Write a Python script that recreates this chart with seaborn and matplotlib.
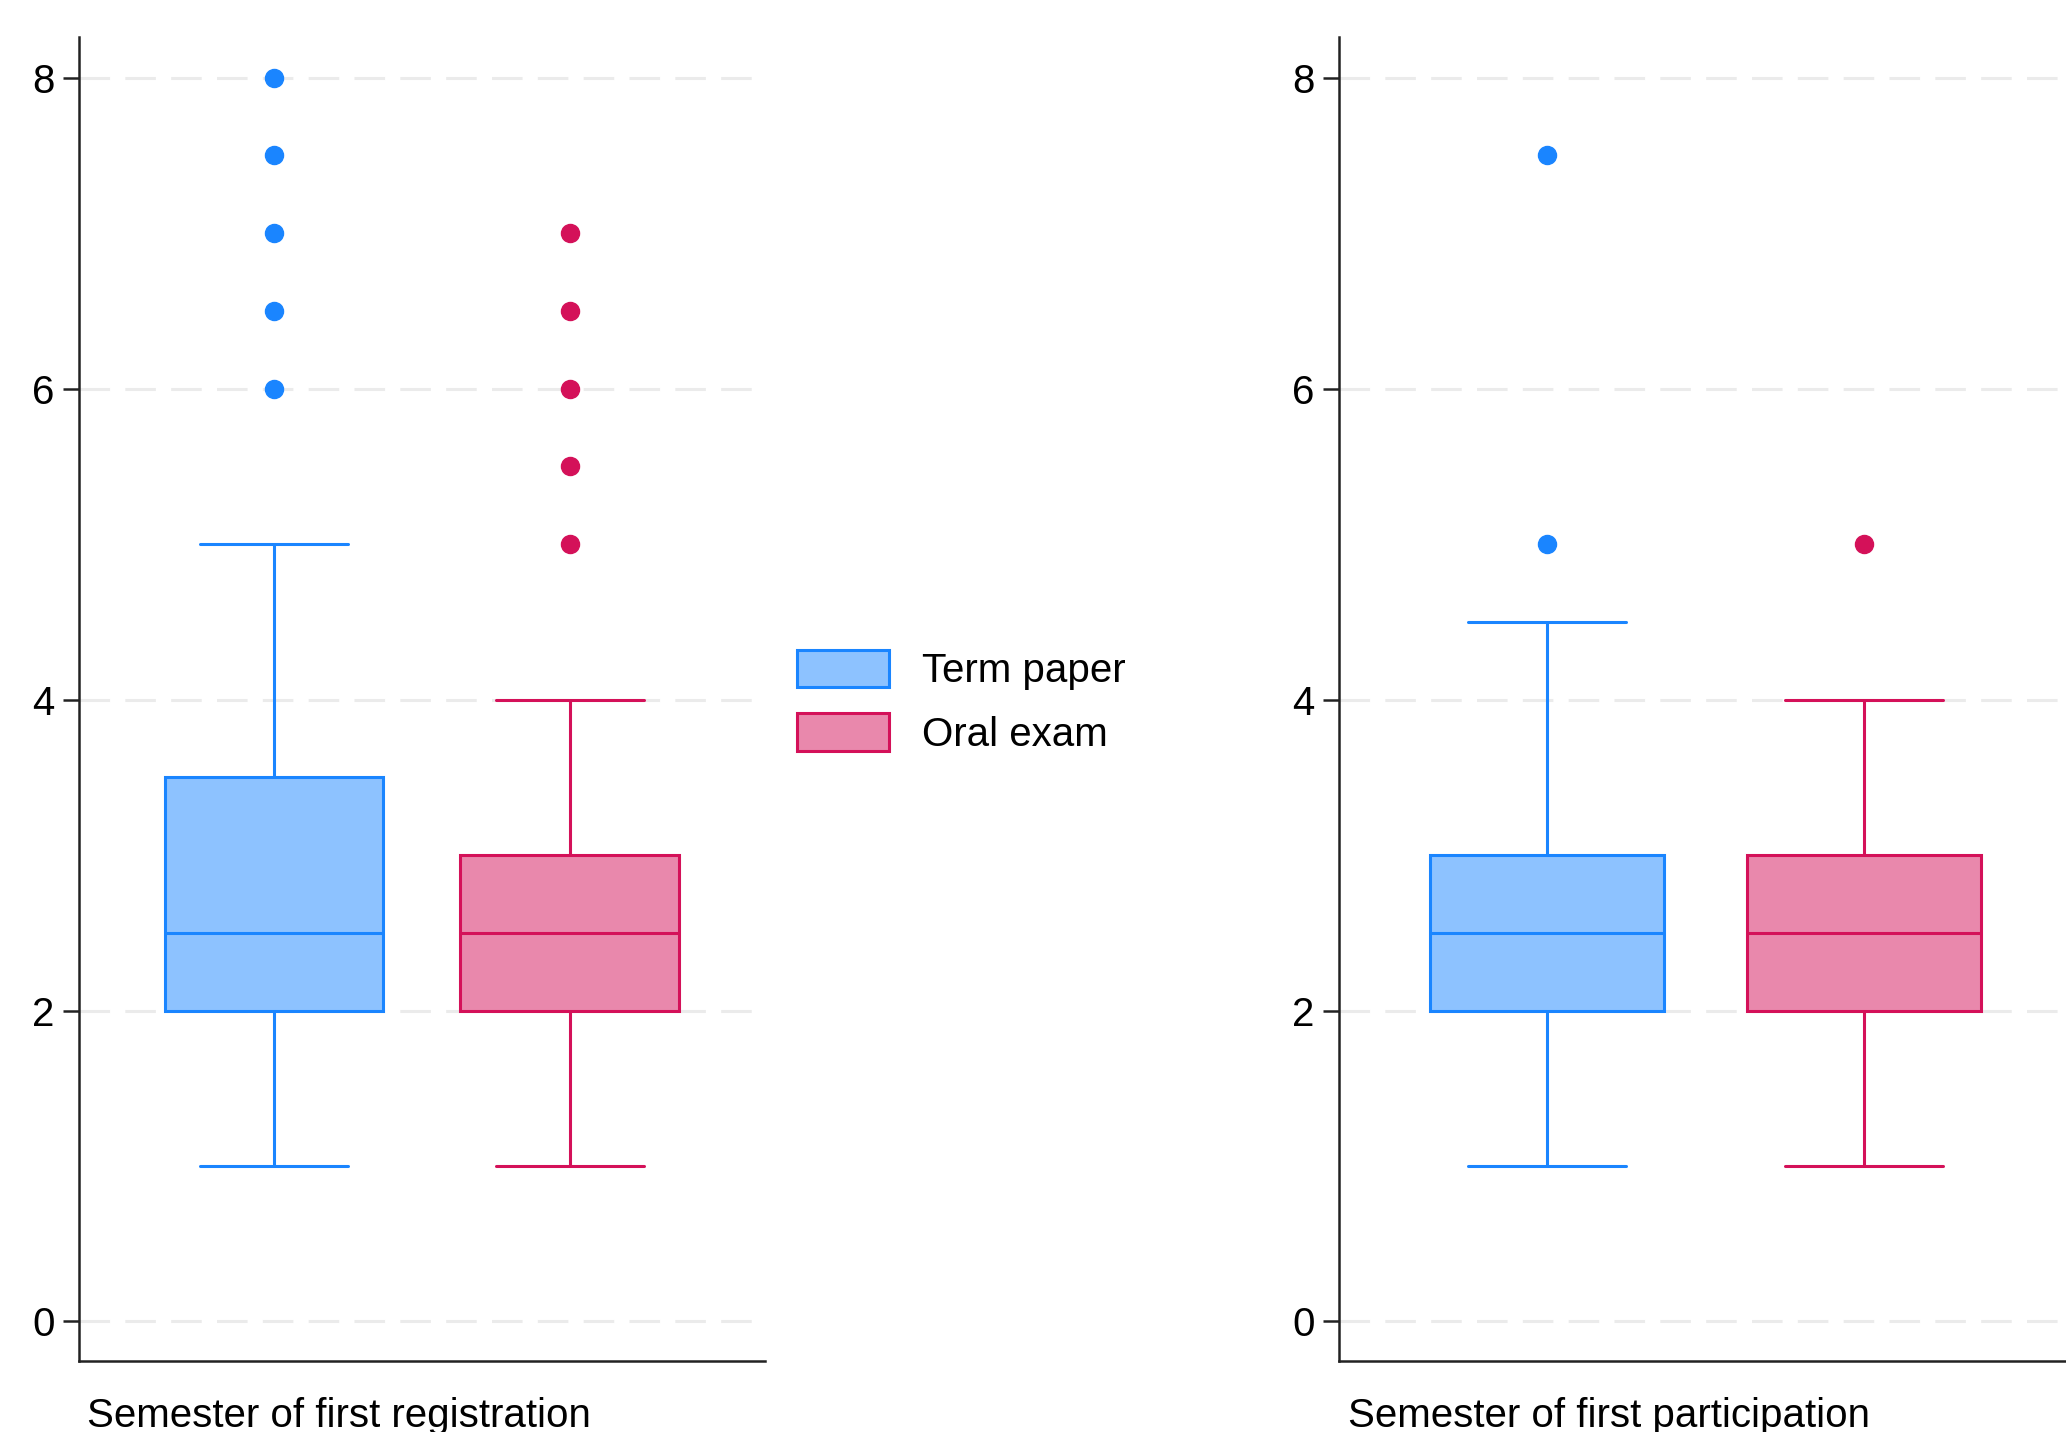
import pandas as pd
import matplotlib
matplotlib.use("Agg")
import matplotlib.pyplot as plt
import seaborn as sns
from matplotlib.patches import Patch

exam_types = ["Term paper", "Oral exam"]
line_colors = ["#1A85FF", "#D41159"]
fill_colors = ["#8DC2FF", "#E988AC"]

# semester of first registration
reg_term = [1, 1, 1.5, 1.5, 2, 2, 2, 2, 2, 2, 2.5, 2.5, 2.5, 2.5, 2.5,
            3, 3, 3, 3.5, 3.5, 3.5, 3.5, 4, 5, 6, 6.5, 7, 7.5, 8]
reg_oral = [1, 1.5, 1.5, 2, 2, 2, 2, 2, 2, 2, 2.5, 2.5, 2.5, 2.5, 2.5, 2.5,
            3, 3, 3, 3, 3, 3, 3.5, 4, 5, 5.5, 6, 6.5, 7]

# semester of first participation
part_term = [1, 1.5, 2, 2, 2, 2, 2, 2.5, 2.5, 2.5, 2.5,
             3, 3, 3, 3, 3, 3.5, 4, 4.5, 5, 7.5]
part_oral = [1, 1.5, 2, 2, 2, 2, 2, 2.5, 2.5, 2.5, 2.5,
             3, 3, 3, 3, 3, 3, 3.5, 4, 4, 5]

panel_labels = ["Semester of first registration", "Semester of first participation"]
y_ticks = [0, 2, 4, 6, 8]

sns.set_style("white")
plt.rcParams["font.family"] = ["Liberation Sans", "DejaVu Sans"]
plt.rcParams["text.color"] = "black"
plt.rcParams["axes.labelcolor"] = "black"

fig = plt.figure(figsize=(20.66, 14.32), dpi=100)
ax1 = fig.add_axes([0.0382, 0.0496, 0.332, 0.9246])
ax2 = fig.add_axes([0.648, 0.0496, 0.355, 0.9246])

palette = dict(zip(exam_types, fill_colors))

for ax, (term, oral), label in zip([ax1, ax2],
                                   [(reg_term, reg_oral), (part_term, part_oral)],
                                   panel_labels):
    df = pd.DataFrame({
        "semester": term + oral,
        "exam": [exam_types[0]] * len(term) + [exam_types[1]] * len(oral),
    })
    sns.boxplot(data=df, y="semester", hue="exam", hue_order=exam_types,
                palette=palette, saturation=1, linewidth=2.2, gap=0.26,
                capwidths=0.2,
                flierprops=dict(marker="o", markersize=13),
                legend=False, ax=ax)

    # colour each box's outline, whiskers, caps, median and outliers
    for i, lc in enumerate(line_colors):
        ax.patches[i].set_edgecolor(lc)
        for line in ax.lines[i * 6:(i + 1) * 6]:
            line.set_color(lc)
            line.set_markerfacecolor(lc)
            line.set_markeredgecolor(lc)

    ax.set_xlim(-0.464, 0.464)
    ax.set_ylim(-0.254, 8.262)
    ax.set_yticks(y_ticks)
    ax.set_xticks([])
    ax.set_ylabel("")
    ax.set_axisbelow(True)
    ax.yaxis.grid(True, color="#EBEBEB", linewidth=2.2, linestyle=(0, (10, 5)))
    sns.despine(ax=ax)
    for side in ["left", "bottom"]:
        ax.spines[side].set_linewidth(1.8)
        ax.spines[side].set_color("#222222")
    ax.tick_params(axis="y", left=True, length=11.5, width=1.8, color="#222222",
                   labelsize=29, pad=6, labelcolor="black")
    ax.set_xlabel(label, fontsize=29, loc="left", color="black")
    ax.xaxis.set_label_coords(0.012, -0.027)

handles = [Patch(facecolor=fc, edgecolor=lc, linewidth=2.2)
           for fc, lc in zip(fill_colors, line_colors)]
fig.legend(handles=handles, labels=exam_types, loc="center left",
           bbox_to_anchor=(0.386, 0.510), frameon=False, fontsize=29,
           handlelength=2.28, handleheight=1.05, handletextpad=0.8,
           labelspacing=0.58, borderpad=0, borderaxespad=0, labelcolor="black")

fig.savefig("out.png", dpi=100)
